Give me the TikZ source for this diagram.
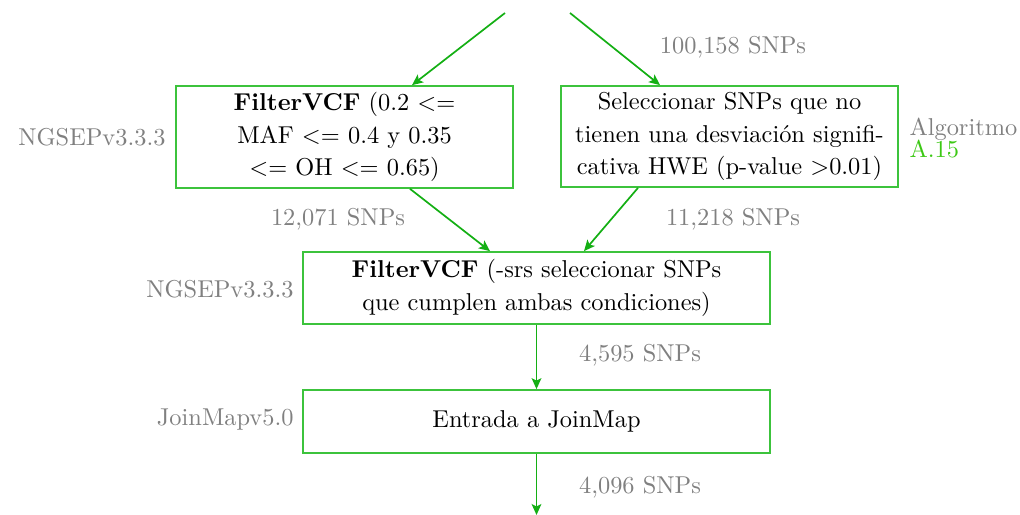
\documentclass[tikz,border=0pt]{standalone}
\usetikzlibrary{arrows.meta}
\definecolor{linegreen}{RGB}{20,175,20}
\definecolor{boxgreen}{RGB}{60,195,60}
\definecolor{refgreen}{RGB}{60,200,20}
\definecolor{labgray}{RGB}{128,128,128}
\tikzset{
  stepbox/.style={draw=boxgreen, line width=0.7pt, align=center, inner sep=0pt},
  flow/.style={draw=linegreen, line width=0.7pt, -{Stealth[length=4.5pt,width=4pt,inset=1pt]}},
  lab/.style={text=labgray, inner sep=0pt}
}
\begin{document}
\begin{tikzpicture}[x=0.41pt,y=-0.41pt]
\useasboundingbox (0,0) rectangle (1020,515);
\node[stepbox, minimum width=337*0.41pt, minimum height=102*0.41pt] (b1) at (344.5,137) {\textbf{FilterVCF} (0.2 <=\\[1.2pt]MAF <= 0.4 y 0.35\\[1.2pt]<= OH <= 0.65)};
\node[stepbox, minimum width=337*0.41pt, minimum height=101*0.41pt] (b2) at (729.5,136.5) {Seleccionar SNPs que no\\[1.2pt]tienen una desviación signifi-\\[1.2pt]cativa HWE (p-value >0.01)};
\node[stepbox, minimum width=467*0.41pt, minimum height=72*0.41pt] (b3) at (536.5,288) {\textbf{FilterVCF} (-srs seleccionar SNPs\\[1.2pt]que cumplen ambas condiciones)};
\node[stepbox, minimum width=467*0.41pt, minimum height=63*0.41pt] (b4) at (536.5,421.5) {Entrada a JoinMap};
\coordinate (s1) at (505,13);
\coordinate (s2) at (570,13);
\coordinate (e) at (536.5,515);
\draw[flow] (s1) -- ([xshift=67.5*0.41pt]b1.north);
\draw[flow] (s2) -- ([xshift=-69.5*0.41pt]b2.north);
\draw[flow] ([xshift=65.5*0.41pt]b1.south) -- ([xshift=-46.5*0.41pt]b3.north);
\draw[flow] ([xshift=-91.5*0.41pt]b2.south) -- ([xshift=47.5*0.41pt]b3.north);
\draw[flow] (b3.south) -- (b4.north);
\draw[flow] (b4.south) -- (e);
\node[lab] (l1) at (733,47) {100,158 SNPs};
\node[lab] (l2) at (338,219) {12,071 SNPs};
\node[lab] (l3) at (733,219) {11,218 SNPs};
\node[lab] (l4) at (640,355) {4,595 SNPs};
\node[lab] (l5) at (640,487) {4,096 SNPs};
\node[lab, anchor=east] (t1) at (166,137) {NGSEPv3.3.3};
\node[lab, anchor=east] (t2) at (294,289) {NGSEPv3.3.3};
\node[lab, anchor=east] (t3) at (294,420) {JoinMapv5.0};
\node[lab, anchor=west, align=left] (t4) at (909,138) {Algoritmo\\[-3pt]\textcolor{refgreen}{A.15}};
\end{tikzpicture}
\end{document}
